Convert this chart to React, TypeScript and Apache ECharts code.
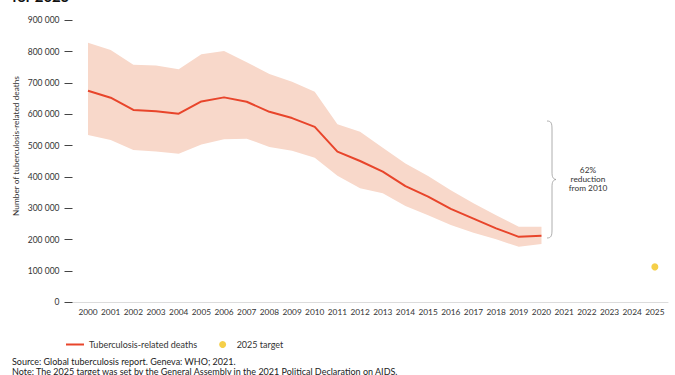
import React, { useEffect, useRef } from "react";
import * as echarts from "echarts";

const years = [2000, 2001, 2002, 2003, 2004, 2005, 2006, 2007, 2008, 2009, 2010, 2011, 2012, 2013, 2014, 2015, 2016, 2017, 2018, 2019, 2020];
const deaths = [675000, 653000, 614000, 610000, 602000, 641000, 654000, 640000, 608000, 588000, 560000, 481000, 451000, 417000, 371000, 337000, 298000, 267000, 236000, 209000, 212000];
const upperBound = [828000, 805000, 758000, 756000, 744000, 792000, 802000, 766000, 729000, 704000, 672000, 568000, 544000, 493000, 443000, 403000, 358000, 316000, 278000, 241000, 241000];
const lowerBound = [534000, 518000, 486000, 481000, 474000, 504000, 520000, 522000, 496000, 484000, 461000, 404000, 364000, 348000, 307000, 278000, 247000, 222000, 201000, 177000, 186000];
const axisYears = [2000, 2001, 2002, 2003, 2004, 2005, 2006, 2007, 2008, 2009, 2010, 2011, 2012, 2013, 2014, 2015, 2016, 2017, 2018, 2019, 2020, 2021, 2022, 2023, 2024, 2025];
const targetYear = 2025;
const targetValue = 113000;

const FONT = "Lato, 'Noto Sans', sans-serif";

echarts.graphic.registerShape(
  "brace",
  echarts.graphic.extendPath(
    "M0,0 C4,0 5,2 5,8 L5,51 C5,56 6,58 9,58.5 C6,59 5,61 5,66 L5,109 C5,115 4,117 0,117",
    {}
  )
);

export default function App() {
  const ref = useRef<HTMLDivElement>(null);
  useEffect(() => {
    if (!ref.current) return;
    const chart = echarts.init(ref.current, null, { renderer: "svg" });
    const fmt = (v: number) => {
      const s = String(Math.round(v));
      return s.replace(/\B(?=(\d{3})+(?!\d))/g, " ");
    };
    chart.setOption({
      animation: false,
      textStyle: { fontFamily: FONT },
      grid: { left: 72.5, right: 7, top: 20.3, bottom: 72.7 },
      xAxis: {
        type: "value",
        min: 1999.316,
        max: 2025.58,
        splitLine: { show: false },
        axisLine: { show: true, lineStyle: { color: "#dcdcdc", width: 1 } },
        axisTick: { show: false },
        axisLabel: {
          customValues: axisYears,
          formatter: (v: number) => String(v),
          fontSize: 8.3,
          color: "#333",
          margin: 6,
          fontFamily: FONT,
        },
      },
      yAxis: {
        type: "value",
        min: 0,
        max: 900000,
        interval: 100000,
        splitLine: { show: false },
        axisLine: { show: false },
        axisTick: { show: true, length: 8, lineStyle: { color: "#444", width: 1 } },
        axisLabel: {
          formatter: fmt,
          fontSize: 8.5,
          color: "#333",
          margin: 13,
          fontFamily: FONT,
        },
      },
      legend: {
        left: 60,
        top: 335,
        itemWidth: 18,
        itemHeight: 7,
        itemGap: 22,
        textStyle: { fontSize: 9, color: "#333", fontFamily: FONT },
        data: [
          { name: "Tuberculosis-related deaths", itemStyle: { opacity: 0 } },
          { name: "2025 target" },
        ],
      },
      series: [
        {
          name: "band",
          type: "custom",
          data: years.map((y, i) => [y, upperBound[i], lowerBound[i]]),
          encode: { x: 0, y: [1, 2] },
          silent: true,
          z: 1,
          renderItem: (params: any, api: any) => {
            if (params.dataIndex !== 0) return null;
            const pts: number[][] = [];
            for (let i = 0; i < years.length; i++) pts.push(api.coord([years[i], upperBound[i]]));
            for (let i = years.length - 1; i >= 0; i--) pts.push(api.coord([years[i], lowerBound[i]]));
            return {
              type: "polygon",
              shape: { points: pts },
              style: { fill: "#f8d8ca", stroke: "none" },
            };
          },
        },
        {
          name: "Tuberculosis-related deaths",
          type: "line",
          data: years.map((y, i) => [y, deaths[i]]),
          symbol: "circle",
          showSymbol: false,
          lineStyle: { color: "#e8452b", width: 2 },
          itemStyle: { color: "#e8452b" },
          z: 5,
        },
        {
          name: "2025 target",
          type: "scatter",
          data: [[targetYear, targetValue]],
          symbolSize: 7,
          itemStyle: { color: "#f2c31b" },
          z: 5,
        },
      ],
      graphic: [
        {
          type: "text",
          left: 12,
          top: -12,
          style: { text: "for 2025", fontSize: 15, fontWeight: "bold", fill: "#111", fontFamily: FONT },
        },
        {
          type: "text",
          x: 16,
          y: 146,
          rotation: Math.PI / 2,
          style: {
            text: "Number of tuberculosis-related deaths",
            fontSize: 8.3,
            fill: "#333",
            align: "center",
            verticalAlign: "middle",
            fontFamily: FONT,
          },
        },
        {
          type: "brace",
          x: 547,
          y: 121,
          style: { stroke: "#9a9a9a", fill: "none", lineWidth: 0.8 },
        },
        {
          type: "text",
          x: 588,
          y: 179,
          style: {
            text: "62%\nreduction\nfrom 2010",
            fontSize: 8.3,
            lineHeight: 9,
            fill: "#333",
            align: "center",
            verticalAlign: "middle",
            fontFamily: FONT,
          },
        },
        {
          type: "text",
          left: 12,
          top: 357,
          style: {
            text: "Source: Global tuberculosis report. Geneva: WHO; 2021.",
            fontSize: 9,
            fill: "#222",
            fontFamily: FONT,
          },
        },
        {
          type: "text",
          left: 12,
          top: 367,
          style: {
            text: "Note: The 2025 target was set by the General Assembly in the 2021 Political Declaration on AIDS.",
            fontSize: 9,
            fill: "#222",
            fontFamily: FONT,
          },
        },
      ],
    });
    return () => chart.dispose();
  }, []);
  return <div ref={ref} style={{ width: 675, height: 375, position: "absolute", left: 0, top: 0 }} />;
}
